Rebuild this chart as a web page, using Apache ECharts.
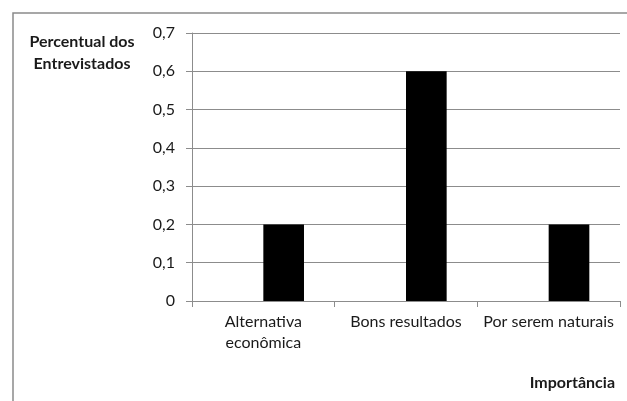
<!DOCTYPE html>
<html>
<head>
<meta charset="utf-8">
<script src="https://cdn.jsdelivr.net/npm/echarts@6/dist/echarts.min.js"></script>
<style>
  html, body { margin: 0; padding: 0; background: #fff; }
  #chart { width: 627px; height: 401px; }
</style>
</head>
<body>
<div id="chart"></div>
<script>
// Categories and values
var categories = ['Alternativa\neconômica', 'Bons resultados', 'Por serem naturais'];
var baseSeries = [0, 0, 0];          // first series (no responses drawn)
var percentValues = [0.2, 0.6, 0.2]; // share of interviewees
var yTicks = [0, 0.1, 0.2, 0.3, 0.4, 0.5, 0.6, 0.7];

var FONT = 'Lato, "Open Sans", sans-serif';
var chart = echarts.init(document.getElementById('chart'), null, { renderer: 'canvas' });

chart.setOption({
  animation: false,
  backgroundColor: '#fff',
  grid: { left: 192, right: 7, top: 33, bottom: 100 },
  xAxis: {
    type: 'category',
    data: categories,
    axisLine: { lineStyle: { color: '#8c8c8c', width: 1 } },
    axisTick: { show: true, length: 6, alignWithLabel: false, lineStyle: { color: '#8c8c8c' } },
    axisLabel: {
      color: '#1a1a1a', fontFamily: FONT, fontSize: 16, margin: 10, lineHeight: 21, interval: 0
    }
  },
  yAxis: {
    type: 'value',
    min: yTicks[0],
    max: yTicks[yTicks.length - 1],
    interval: 0.1,
    axisLine: { show: true, lineStyle: { color: '#8c8c8c', width: 1 } },
    axisTick: { show: true, length: 6, lineStyle: { color: '#8c8c8c' } },
    splitLine: { show: true, lineStyle: { color: '#8c8c8c', width: 1 } },
    axisLabel: {
      color: '#1a1a1a', fontFamily: FONT, fontSize: 16, margin: 17,
      formatter: function (v) { return String(Math.round(v * 10) / 10).replace('.', ','); }
    }
  },
  series: [
    {
      type: 'bar', data: baseSeries, barGap: '0%', barCategoryGap: '43%',
      itemStyle: { color: '#000' }
    },
    {
      type: 'bar', data: percentValues, barGap: '0%', barCategoryGap: '43%',
      itemStyle: { color: '#000' }
    }
  ],
  graphic: [
    // outer chart frame
    { type: 'polyline', shape: { points: [[13, 401], [13, 13], [627, 13]] },
      style: { stroke: '#8a8a8a', lineWidth: 1.5, fill: null } },
    { type: 'text', left: 28, top: 31,
      style: { text: 'Percentual dos\nEntrevistados', font: 'bold 16px ' + FONT,
               fill: '#1a1a1a', lineHeight: 22, textAlign: 'center', width: 108 } },
    { type: 'text', right: 12, top: 375,
      style: { text: 'Importância', font: 'bold 16px ' + FONT, fill: '#1a1a1a' } }
  ]
});
</script>
</body>
</html>
